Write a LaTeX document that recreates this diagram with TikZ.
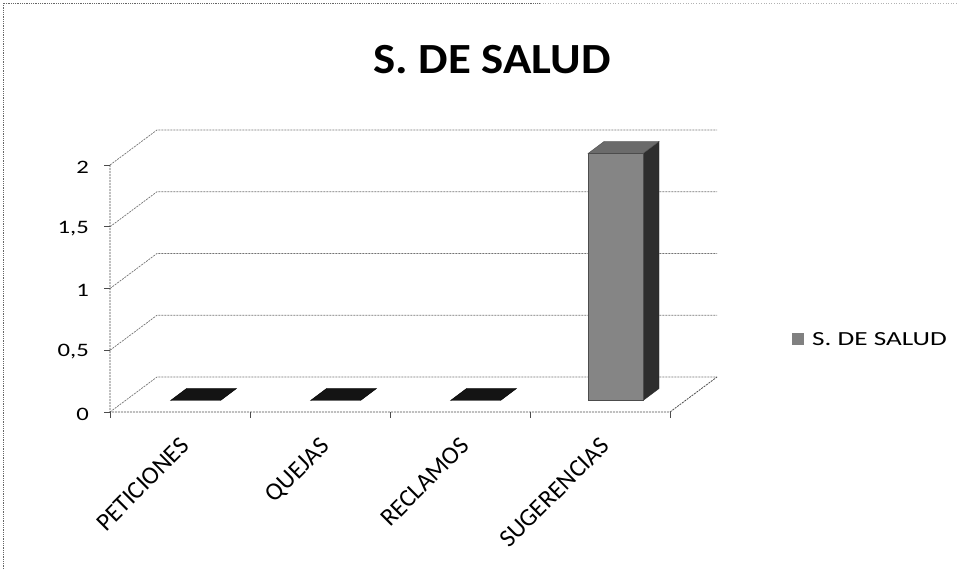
\documentclass[tikz,border=0pt]{standalone}
\usepackage{fontspec}
\setmainfont{Carlito}
\usepackage{graphicx}
\begin{document}
\begin{tikzpicture}[x=1pt,y=-1pt,
 grid/.style={black!55, line width=0.7pt, dash pattern=on 2pt off 1pt},
 axisline/.style={black!70, line width=0.8pt, dash pattern=on 2pt off 1pt},
 tickmark/.style={black!70, line width=0.7pt},
 ticklabel/.style={font=\fontsize{19}{19}\selectfont, anchor=east, inner sep=0pt},
 catlabel/.style={font=\fontsize{25}{25}\selectfont, rotate=45, anchor=north east, inner sep=0pt},
 flatbar/.style={fill=black!92, draw=black, line width=0.4pt},
 frontface/.style={fill=black!48, draw=black!70, line width=0.4pt},
 sideface/.style={fill=black!82, draw=black!85, line width=0.4pt},
 topface/.style={fill=black!58, draw=black!70, line width=0.4pt},
]
\useasboundingbox (0,0) rectangle (959,569);
% chart border
\draw[black!60, densely dotted, line width=0.8pt] (3,569) -- (3,3) -- (540,3);
\draw[black!30, dotted, line width=0.6pt] (540,3) -- (959,3);
% title
\node[inner sep=0pt] (title) at (492,60) {\fontsize{43}{43}\selectfont\bfseries\scalebox{1.09}[1]{S. DE SALUD}};
% gridlines on walls
\foreach \v in {0,0.5,1,1.5,2}{
  \draw[grid] (110,{412-123.5*\v}) -- (157,{377-123.5*\v}) -- (717,{377-123.5*\v});
  \draw[tickmark] (104,{412-123.5*\v}) -- (110,{412-123.5*\v});
}
% axes / floor
\draw[axisline] (110,165) -- (110,412) -- (670,412) -- (717,377);
\foreach \x in {110,250,390,530,670}{
  \draw[tickmark] (\x,412) -- (\x,418);
}
% value labels
\node[ticklabel] (v0) at (89,414) {\scalebox{1.3}[1]{0}};
\node[ticklabel] (v05) at (89,352) {\scalebox{1.3}[1]{0,5}};
\node[ticklabel] (v1) at (89,290.5) {\scalebox{1.3}[1]{1}};
\node[ticklabel] (v15) at (89,229) {\scalebox{1.3}[1]{1,5}};
\node[ticklabel] (v2) at (89,167) {\scalebox{1.3}[1]{2}};
% flat bars (value 0)
\foreach \c in {180,320,460}{
  \draw[flatbar] ({\c+15.5-25},400.5) -- ({\c+15.5+25},400.5) -- ({\c+31.5+25},388.5) -- ({\c+31.5-25},388.5) -- cycle;
}
% big bar (value 2)
\draw[sideface] (643,400.5) -- (659,388.5) -- (659,141.5) -- (643,153.5) -- cycle;
\draw[topface] (588,153.5) -- (643,153.5) -- (659,141.5) -- (604,141.5) -- cycle;
\draw[frontface] (588,153.5) rectangle (643,400.5);
% category labels
\node[catlabel] (c1) at (179,436) {PETICIONES};
\node[catlabel] (c2) at (319,436) {QUEJAS};
\node[catlabel] (c3) at (459,436) {RECLAMOS};
\node[catlabel] (c4) at (599,436) {SUGERENCIAS};
% legend
\fill[black!50] (792,333) rectangle (804,345);
\node[anchor=west, inner sep=0pt, font=\fontsize{20}{20}\selectfont] (leg) at (812,339.5) {\scalebox{1.36}[1]{S. DE SALUD}};
\end{tikzpicture}
\end{document}
